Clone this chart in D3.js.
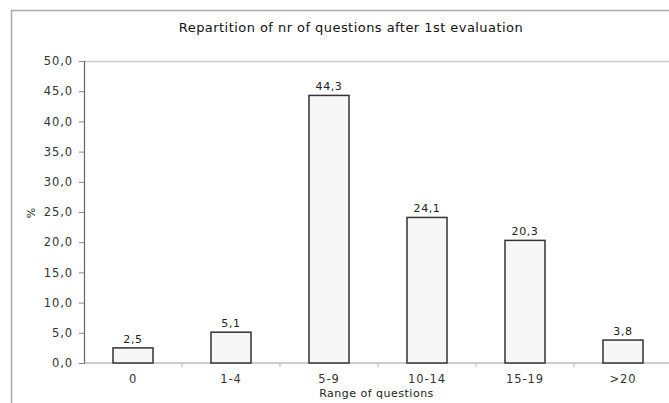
<!DOCTYPE html>
<html><head><meta charset="utf-8">
<script src="https://cdn.jsdelivr.net/npm/d3@7"></script>
<style>
html,body{margin:0;padding:0;background:#fff;}
svg{display:block;font-family:"DejaVu Sans",Verdana,sans-serif;}
</style></head>
<body><svg id="c" width="669" height="403"></svg>
<script>
const categories = ["0","1-4","5-9","10-14","15-19",">20"];
const values = [2.5, 5.1, 44.3, 24.1, 20.3, 3.8];
const yTicks = [0,5,10,15,20,25,30,35,40,45,50];
const title = "Repartition of nr of questions after 1st evaluation";
const xTitle = "Range of questions";
const yTitle = "%";

(function(){
const svg = d3.select("#c");
const fmt = v => d3.format(".1f")(v).replace(".", ",");

// outer frame
svg.append("path").attr("d","M11.5,403 V10.5 H669").attr("fill","none").attr("stroke","#aaa").attr("stroke-width",1.5);

const pL = 84, pR = 672, pT = 61, pB = 363;
const x = d3.scaleBand().domain(categories).range([pL, pR]).paddingInner(0).paddingOuter(0);
const y = d3.scaleLinear().domain([0,50]).range([pB, pT]);

// plot area top border
svg.append("line").attr("x1",pL).attr("x2",669).attr("y1",pT+0.5).attr("y2",pT+0.5).attr("stroke","#ccc").attr("stroke-width",1.5);

// title
svg.append("text").attr("x",351).attr("y",32).attr("text-anchor","middle")
  .attr("font-size",13).attr("letter-spacing",0.45).attr("fill","#111").text(title);

// y axis
const yAxis = svg.append("g").attr("transform",`translate(${pL},0)`)
  .call(d3.axisLeft(y).tickValues(yTicks).tickFormat(fmt).tickSize(5).tickPadding(6));
yAxis.select(".domain").attr("stroke","#666").attr("stroke-width",1.2);
yAxis.selectAll(".tick line").attr("stroke","#888");
yAxis.selectAll("text").attr("font-size",11.5).attr("letter-spacing",0.9).attr("fill","#333").attr("font-family","DejaVu Sans, sans-serif");

// x axis
const xAxis = svg.append("g").attr("transform",`translate(0,${pB})`);
xAxis.append("line").attr("x1",pL).attr("x2",669).attr("stroke","#999").attr("stroke-width",1.2);
categories.forEach(c => {
  xAxis.append("line").attr("x1",x(c)+x.bandwidth()).attr("x2",x(c)+x.bandwidth())
    .attr("y1",0).attr("y2",4).attr("stroke","#bbb");
});
xAxis.selectAll("text.cat").data(categories).enter().append("text").attr("class","cat")
  .attr("x",d=>x(d)+x.bandwidth()/2).attr("y",20).attr("text-anchor","middle")
  .attr("font-size",11.5).attr("letter-spacing",0.9).attr("fill","#333").text(d=>d);

// bars
const bw = 40;
svg.selectAll("rect.bar").data(values).enter().append("rect").attr("class","bar")
  .attr("x",(d,i)=>x(categories[i])+x.bandwidth()/2-bw/2)
  .attr("y",d=>y(d)).attr("width",bw).attr("height",d=>pB-y(d))
  .attr("fill","#f7f7f7").attr("stroke","#333").attr("stroke-width",1.5);

// value labels
svg.selectAll("text.val").data(values).enter().append("text").attr("class","val")
  .attr("x",(d,i)=>x(categories[i])+x.bandwidth()/2).attr("y",d=>y(d)-5)
  .attr("text-anchor","middle").attr("font-size",11).attr("letter-spacing",0.6).attr("fill","#222").text(fmt);

// axis titles
svg.append("text").attr("x",(pL+669)/2).attr("y",397).attr("text-anchor","middle")
  .attr("font-size",11).attr("letter-spacing",0.5).attr("fill","#222").text(xTitle);
svg.append("text").attr("transform","translate(35,213) rotate(-90)").attr("text-anchor","middle")
  .attr("font-size",11).attr("fill","#222").text(yTitle);
})();
</script></body></html>
